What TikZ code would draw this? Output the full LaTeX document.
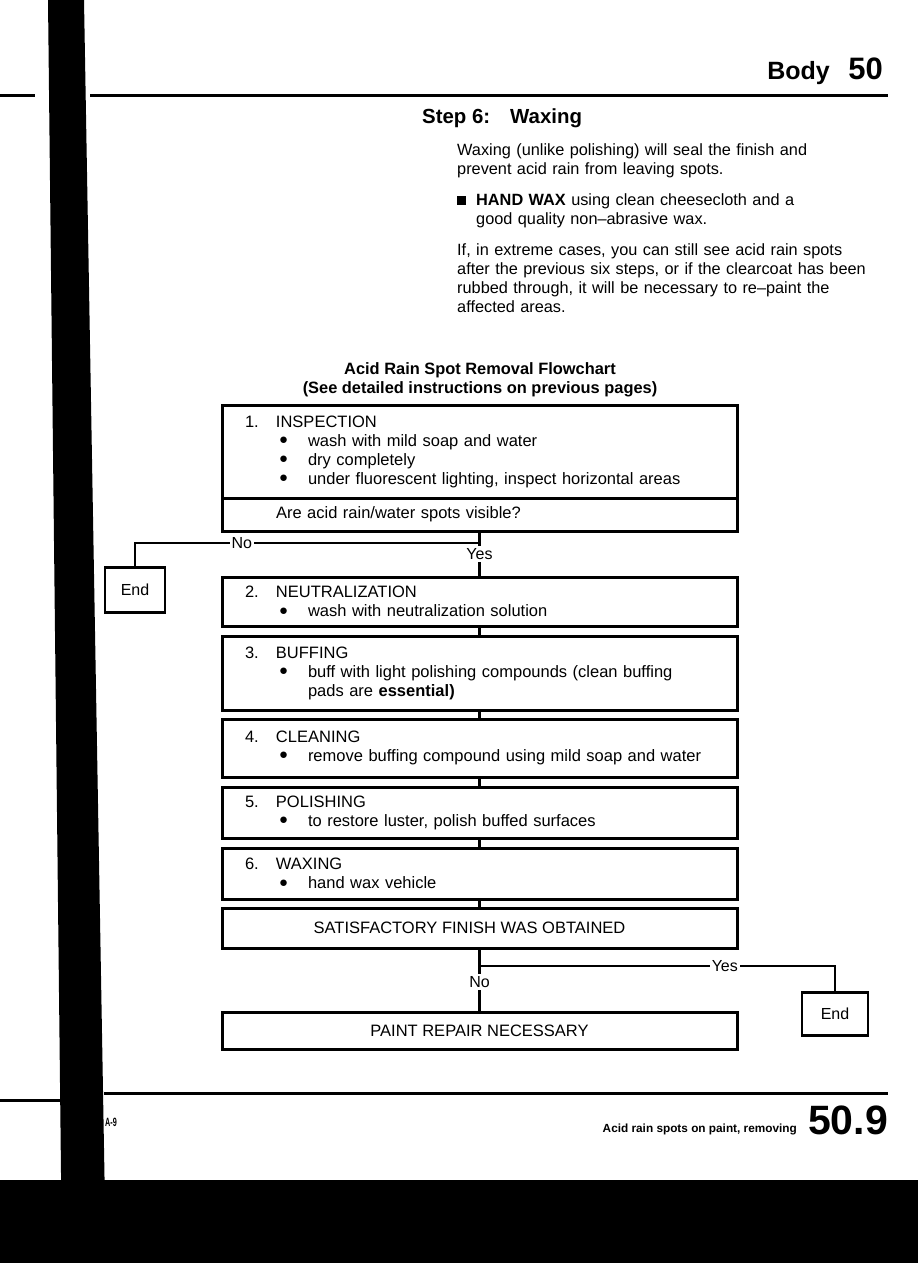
\documentclass[tikz,border=0pt]{standalone}
\usepackage{fontspec}
\setmainfont{Liberation Sans}
\usepackage{graphicx}
\usetikzlibrary{positioning,calc}

\newcommand{\stephead}[2]{\makebox[31pt][l]{#1}#2}
\newcommand{\stepdot}{\raisebox{1.6pt}{\fontsize{15}{10}\selectfont ●}}
\newcommand{\stepitem}[1]{\\\hspace*{31pt}\makebox[32pt][l]{\hspace{3pt}\stepdot}#1}
\newcommand{\stepmore}[1]{\\\hspace*{63pt}#1}

\begin{document}
\begin{tikzpicture}[x=1pt,y=-1pt,
          stepbox/.style={draw,line width=3pt,outer sep=0pt,inner xsep=23pt,
                     text width=469pt,align=left,anchor=north west,
                     font=\fontsize{16.5}{19}\selectfont},
          linebox/.style={draw,line width=3pt,outer sep=0pt,minimum width=515pt,
                     anchor=north west,font=\fontsize{16.5}{19}\selectfont},
          endbox/.style={draw,line width=2.4pt,outer sep=0pt,
                     font=\fontsize{16}{19}\selectfont},
          link/.style={line width=2.2pt},
          lab/.style={fill=white,inner sep=2pt,font=\fontsize{16}{19}\selectfont},
          para/.style={anchor=north west,inner sep=0pt,text width=440pt,align=left,
                     font=\fontsize{16.3}{19.2}\selectfont}]
  \useasboundingbox (0,0) rectangle (918,1263);
  % page head
  \node[anchor=base east,inner sep=0pt,font=\bfseries\fontsize{25}{30}\selectfont]
    (body) at (830,79) {Body};
  \node[anchor=base east,inner sep=0pt,font=\bfseries\fontsize{31}{36}\selectfont]
    (chap) at (883,79) {50};
  \draw[line width=3pt] (0,95) -- (35,95) (90,95) -- (888,95);
  \node[anchor=base west,inner sep=0pt,font=\bfseries\fontsize{20.4}{24}\selectfont]
    (stephd) at (422,123) {\makebox[88pt][l]{Step 6:}Waxing};
  \node[para] (p1) at (457,141.7) {\strut Waxing (unlike polishing) will seal the finish and\\
    prevent acid rain from leaving spots.};
  \node[para] (p2) at (457,191.7) {\strut\makebox[19pt][l]{\rule[0.5pt]{8.5pt}{8.5pt}}%
    \textbf{HAND WAX} using clean cheesecloth and a\\
    \hspace*{19pt}good quality non–abrasive wax.};
  \node[para] (p3) at (457,241.7) {\strut If, in extreme cases, you can still see acid rain spots\\
    after the previous six steps, or if the clearcoat has been\\
    rubbed through, it will be necessary to re–paint the\\
    affected areas.};
  % flowchart
  \node[inner sep=0pt,align=center,font=\bfseries\fontsize{16.4}{19}\selectfont]
    (title) at (480,380) {Acid Rain Spot Removal Flowchart\\
    (See detailed instructions on previous pages)};
  \node[stepbox,minimum height=93pt] (insp) at (222,405)
    {\stephead{1.}{INSPECTION}\stepitem{wash with mild soap and water}%
     \stepitem{dry completely}\stepitem{under fluorescent lighting, inspect horizontal areas}};
  \node[stepbox,minimum height=33pt] (ask) at (222,498)
    {\hspace*{31pt}Are acid rain/water spots visible?};
  \node[stepbox,minimum height=49pt] (neut) at (222,577)
    {\stephead{2.}{NEUTRALIZATION}\stepitem{wash with neutralization solution}};
  \node[stepbox,minimum height=74pt] (buff) at (222,636)
    {\stephead{3.}{BUFFING}\stepitem{buff with light polishing compounds (clean buffing}%
     \stepmore{pads are \textbf{essential)}}};
  \node[stepbox,minimum height=58pt] (clean) at (222,719)
    {\stephead{4.}{CLEANING}\stepitem{remove buffing compound using mild soap and water}};
  \node[stepbox,minimum height=51pt] (polish) at (222,787)
    {\stephead{5.}{POLISHING}\stepitem{to restore luster, polish buffed surfaces}};
  \node[stepbox,minimum height=51pt] (wax) at (222,848)
    {\stephead{6.}{WAXING}\stepitem{hand wax vehicle}};
  \node[linebox,minimum height=40pt] (finish) at (222,908)
    {\kern-20pt SATISFACTORY FINISH WAS OBTAINED};
  \node[linebox,minimum height=37pt] (repair) at (222,1012)
    {PAINT REPAIR NECESSARY};
  \node[endbox,minimum width=60pt,minimum height=45pt] (endA) at (135,590) {End};
  \node[endbox,minimum width=66pt,minimum height=43pt] (endB) at (835,1014) {End};
  % connectors
  \draw[link] (ask.south) -- coordinate[pos=0.26] (splitA)
    node[lab,pos=0.5] {Yes} (neut.north);
  \draw[link] (splitA) -- node[lab,pos=0.69] {No} (splitA -| endA.north) -- (endA.north);
  \draw[link] (neut.south) -- (buff.north);
  \draw[link] (buff.south) -- (clean.north);
  \draw[link] (clean.south) -- (polish.north);
  \draw[link] (polish.south) -- (wax.north);
  \draw[link] (wax.south) -- (finish.north);
  \draw[link] (finish.south) -- coordinate[pos=0.28] (splitB)
    node[lab,pos=0.53] {No} (repair.north);
  \draw[link] (splitB) -- node[lab,pos=0.69] {Yes} (splitB -| endB.north) -- (endB.north);
  % page foot
  \draw[line width=3pt] (0,1100) -- (60,1100) (104,1093) -- (888,1093);
  \node[anchor=base west,inner sep=0pt,font=\bfseries\fontsize{12}{14}\selectfont]
    (pgref) at (105,1126) {\scalebox{0.6}[1]{A-9}};
  \node[anchor=base east,inner sep=0pt,font=\bfseries\fontsize{11.8}{14}\selectfont]
    (foottxt) at (797,1132) {Acid rain spots on paint, removing};
  \node[anchor=base east,inner sep=0pt,font=\bfseries\fontsize{41}{48}\selectfont]
    (pgno) at (888,1134) {50.9};
  \fill (48,0) -- (84,0) -- (106,1263) -- (62,1263) -- cycle;
  \fill (0,1180) rectangle (918,1263);
\end{tikzpicture}
\end{document}
